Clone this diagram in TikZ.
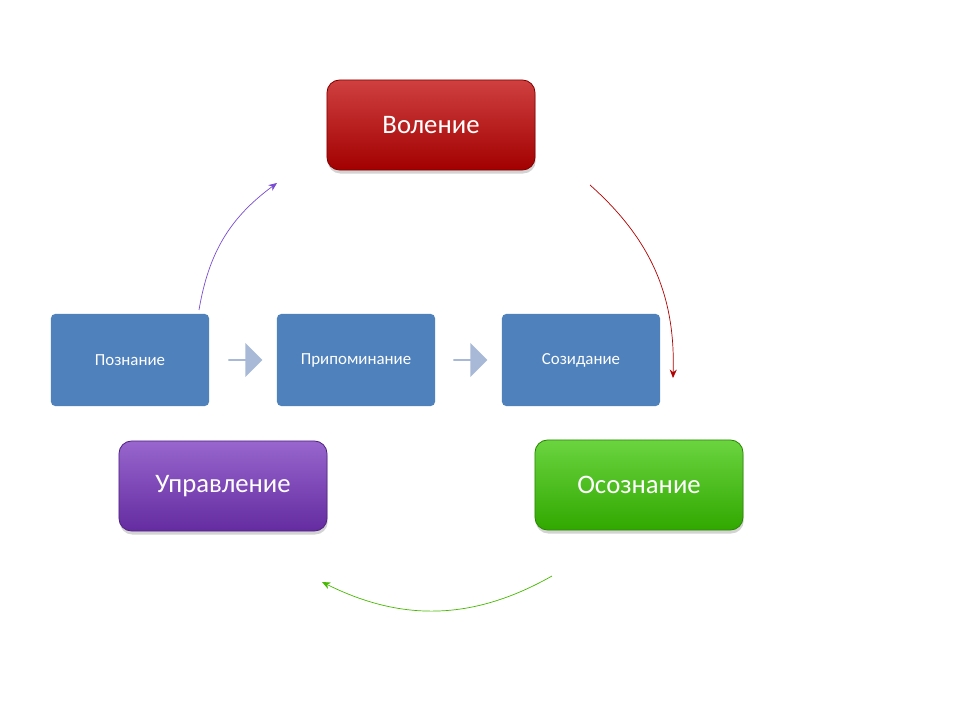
\documentclass[tikz,border=0pt]{standalone}
\usepackage{fontspec}
\setmainfont{Carlito}
\usetikzlibrary{positioning,shapes,shadows,arrows.meta}

\definecolor{boxblue}{RGB}{79,129,189}
\definecolor{arrowgrey}{RGB}{167,185,215}

\tikzset{
  bigbox/.style={rounded corners=9pt, minimum width=5.2cm, minimum height=2.25cm,
    font=\fontsize{19}{22}\selectfont, text=white, draw=#1!70!black, line width=0.6pt,
    top color=#1!75!white, bottom color=#1!85!black,
    drop shadow={shadow xshift=0.5pt, shadow yshift=-2.5pt, opacity=0.35}},
  smallbox/.style={rounded corners=3pt, minimum width=3.95cm, minimum height=2.3cm,
    fill=boxblue, text=white, font=\fontsize{12}{14}\selectfont},
  stepar/.style={single arrow, fill=arrowgrey, minimum width=0.85cm,
    single arrow head extend=0.12cm, minimum height=0.85cm, inner sep=0pt},
  cyclear/.style={-{Stealth[length=6pt,width=5pt]}, line width=0.5pt}
}

\begin{document}
\begin{tikzpicture}[x=0.025cm, y=-0.025cm]

\useasboundingbox (0,0) rectangle (960,720);

% top and corner boxes
\node[bigbox={red!75!black}] (vol) at (431,125) {Воление};
\node[bigbox={violet!65!blue!80!white}] (upr) at (223,486) {Управление};
\node[bigbox={green!55!olive}] (oso) at (639,485) {Осознание};

% middle row
\node[smallbox] (poz) at (130,360) {Познание};
\node[smallbox] (pri) at (356,360) {Припоминание};
\node[smallbox] (soz) at (581,360) {Созидание};

\node[stepar] (ar1) at (245,360) {};
\node[stepar] (ar2) at (470,360) {};

% cycle arrows
\coordinate (c1s) at (199,310);
\coordinate (c1e) at (277,183);
\coordinate (c2s) at (590,185);
\coordinate (c2e) at (673,378);
\coordinate (c3s) at (552,576);
\coordinate (c3e) at (322,582);

\draw[cyclear, draw=violet!50!blue!70!white] (c1s) to[bend left=22] (c1e);
\draw[cyclear, draw=red!70!black] (c2s) to[bend left=25] (c2e);
\draw[cyclear, draw=green!45!olive] (c3s) to[bend left=28] (c3e);

\end{tikzpicture}
\end{document}
